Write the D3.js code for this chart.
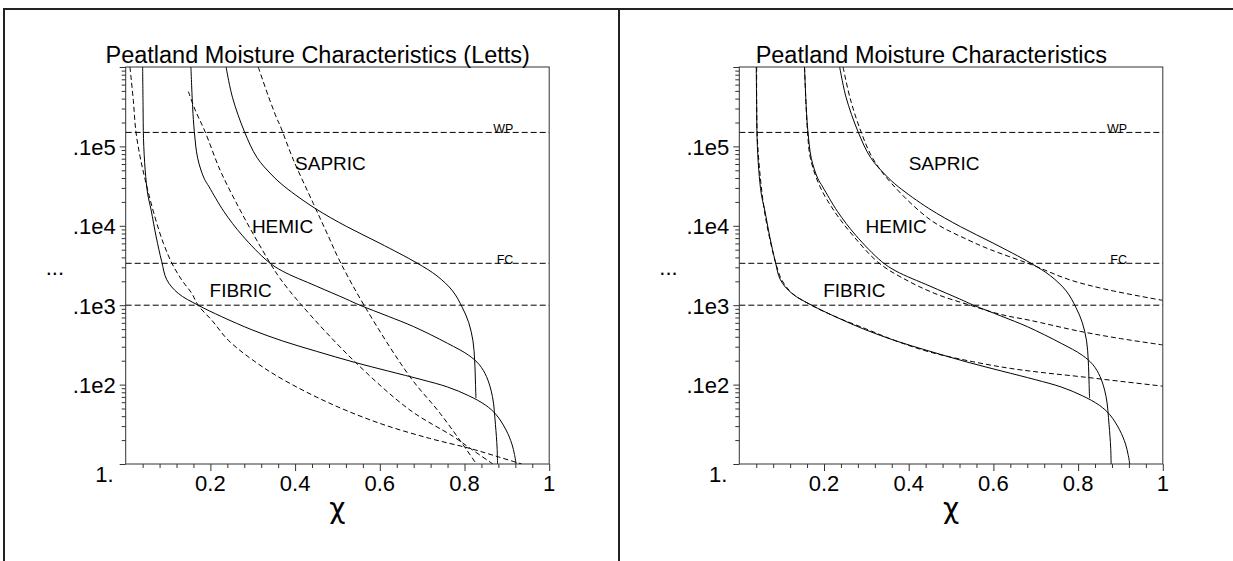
<!DOCTYPE html>
<html>
<head>
<meta charset="utf-8">
<script src="https://cdn.jsdelivr.net/npm/d3@7"></script>
<style>
body { margin: 0; background: #fff; }
text { font-family: "Liberation Sans", Arial, Helvetica, sans-serif; fill: #000; }
text.chi { font-family: "DejaVu Sans", sans-serif; }
</style>
</head>
<body>
<div id="chart"></div>
<script>
// curves: [chi, suction]
var fibricFit = [[0.040,100000],[0.041,31600],[0.042,12600],[0.046,5010],[0.052,2510],[0.060,1580],[0.072,724],[0.085,355],[0.097,209],[0.124,141],[0.171,100],[0.227,71.6],[0.298,49],[0.37,35.5],[0.45,26.3],[0.54,19.1],[0.62,14.8],[0.70,11.5],[0.76,9.33],[0.81,7.24],[0.85,5.5],[0.875,4.17],[0.898,2.69],[0.912,1.78],[0.918,1.32],[0.922,1]];
var hemicFit = [[0.154,100000],[0.158,31600],[0.162,15500],[0.170,7080],[0.185,3980],[0.197,3090],[0.232,1510],[0.275,759],[0.336,355],[0.37,269],[0.45,174],[0.52,120],[0.553,100],[0.62,72.4],[0.68,53.7],[0.76,33.1],[0.81,23.4],[0.835,17.8],[0.852,12.6],[0.866,7.08],[0.873,3.16],[0.877,1.58],[0.878,1]];
var sapricFit = [[0.237,100000],[0.252,41700],[0.280,15500],[0.310,7240],[0.345,4370],[0.376,3090],[0.447,1660],[0.522,977],[0.600,603],[0.688,339],[0.735,234],[0.772,151],[0.795,93.3],[0.810,60.3],[0.820,35.5],[0.824,20],[0.826,10],[0.827,6.76]];

// Letts curves (dashed, left panel)
var fibricLetts = [[0.010,100000],[0.018,38000],[0.024,15500],[0.034,7410],[0.046,3800],[0.069,1290],[0.089,603],[0.109,339],[0.132,209],[0.156,141],[0.171,100],[0.205,63.1],[0.242,36.3],[0.305,19.5],[0.37,11.7],[0.482,5.81],[0.600,3.25],[0.718,2.1],[0.813,1.57],[0.88,1.23],[0.935,1]];
var hemicLetts = [[0.148,49000],[0.164,28800],[0.187,15500],[0.223,5010],[0.266,1740],[0.305,724],[0.341,339],[0.364,219],[0.412,105],[0.537,20.4],[0.671,4.79],[0.774,2.21],[0.813,1.58],[0.867,1]];
var sapricLetts = [[0.313,100000],[0.337,42700],[0.357,22400],[0.364,18600],[0.396,6760],[0.443,1910],[0.475,813],[0.506,355],[0.565,95.5],[0.671,12.6],[0.742,4.37],[0.805,1.51],[0.828,1]];

// second model (dashed, right panel)
var fibricModel = [[0.041,100000],[0.042,15500],[0.048,5010],[0.059,1580],[0.071,724],[0.086,339],[0.10,209],[0.125,141],[0.17,100],[0.225,72.4],[0.30,50.1],[0.37,35.5],[0.45,25.7],[0.55,19.5],[0.64,16],[0.72,14.1],[0.805,12.6],[0.90,11],[1.0,9.55]];
var hemicModel = [[0.154,100000],[0.161,15500],[0.168,7080],[0.19,3160],[0.225,1510],[0.268,759],[0.33,339],[0.40,200],[0.47,135],[0.545,100],[0.62,75.9],[0.686,64.6],[0.805,46.8],[0.90,38],[1.0,31.6]];
var sapricModel = [[0.245,100000],[0.262,39800],[0.287,15500],[0.315,7080],[0.36,3390],[0.453,1170],[0.541,661],[0.593,501],[0.690,324],[0.78,209],[0.874,155],[1.0,115]];

// reference levels
var levelValues = [15000, 337, 100];
var levelNames = ["WP", "FC", ""];

var soilNames = ["SAPRIC", "HEMIC", "FIBRIC"];
var soilLabelChi = [0.40, 0.298, 0.198];
var soilLabelH = [5050, 805, 126];

var xTickValues = [0.2, 0.4, 0.6, 0.8, 1];
var xTickText = ["0.2", "0.4", "0.6", "0.8", "1"];
var yTickValues = [10, 100, 1000, 10000];
var yTickText = [".1e2", ".1e3", ".1e4", ".1e5"];

var titles = ["Peatland Moisture Characteristics (Letts)", "Peatland Moisture Characteristics"];

var plotW = 423.5, plotTop = 67, plotBottom = 464;

var svg = d3.select("#chart").append("svg")
    .attr("width", 1233)
    .attr("height", 561);

// outer cell frame
svg.append("path")
    .attr("d", "M4,561V9H1233M619,9V561")
    .attr("fill", "none")
    .attr("stroke", "#222")
    .attr("stroke-width", 2);

drawPanel(125.7, 0, [fibricFit, hemicFit, sapricFit], [fibricLetts, hemicLetts, sapricLetts]);
drawPanel(739.3, 1, [fibricFit, hemicFit, sapricFit], [fibricModel, hemicModel, sapricModel]);

function drawPanel(x0, idx, solids, dashes) {
    var x = d3.scaleLinear().domain([0, 1]).range([x0, x0 + plotW]);
    var y = d3.scaleLog().domain([1, 1e5]).range([plotBottom, plotTop]);

    var g = svg.append("g").attr("class", "panel" + idx);

    g.append("clipPath").attr("id", "clip" + idx)
        .append("rect")
        .attr("x", x0).attr("y", plotTop)
        .attr("width", plotW).attr("height", plotBottom - plotTop);

    // minor + major ticks on y
    var yMinor = [];
    for (var e = 0; e < 5; e++) {
        for (var m = 2; m <= 9; m++) yMinor.push(m * Math.pow(10, e));
    }
    g.append("g")
        .attr("transform", "translate(" + x0 + ",0)")
        .call(d3.axisLeft(y).tickValues(yMinor).tickSize(4).tickFormat(""))
        .call(function(s) { s.select(".domain").remove(); });
    g.append("g")
        .attr("transform", "translate(" + x0 + ",0)")
        .call(d3.axisLeft(y).tickValues([1, 10, 100, 1000, 10000, 100000]).tickSize(6).tickFormat(""))
        .call(function(s) { s.select(".domain").remove(); });

    // ticks on x
    var xMinor = d3.range(1, 26).map(function(i) { return i * 0.04; })
        .filter(function(v) { return Math.abs(v * 5 - Math.round(v * 5)) > 1e-6; });
    g.append("g")
        .attr("transform", "translate(0," + plotBottom + ")")
        .call(d3.axisBottom(x).tickValues(xMinor).tickSize(4).tickFormat(""))
        .call(function(s) { s.select(".domain").remove(); });
    g.append("g")
        .attr("transform", "translate(0," + plotBottom + ")")
        .call(d3.axisBottom(x).tickValues(xTickValues).tickSize(7).tickFormat(""))
        .call(function(s) { s.select(".domain").remove(); });

    g.selectAll(".tick line").attr("stroke", "#333");

    // frame
    g.append("rect")
        .attr("x", x0).attr("y", plotTop)
        .attr("width", plotW).attr("height", plotBottom - plotTop)
        .attr("fill", "none").attr("stroke", "#333").attr("stroke-width", 1);

    // tick labels
    g.selectAll(".xlab").data(xTickValues).enter().append("text")
        .attr("x", function(d) { return x(d); })
        .attr("y", plotBottom + 27)
        .attr("text-anchor", "middle")
        .style("font-size", "22px")
        .text(function(d, i) { return xTickText[i]; });

    g.selectAll(".ylab").data(yTickValues).enter().append("text")
        .attr("x", x0 - 10)
        .attr("y", function(d) { return y(d) + 8.5; })
        .attr("text-anchor", "end")
        .style("font-size", "22px")
        .text(function(d, i) { return yTickText[i]; });

    g.append("text")
        .attr("x", x0 - 12)
        .attr("y", y(1) + 18)
        .attr("text-anchor", "end")
        .style("font-size", "22px")
        .text("1.");

    g.append("text")
        .attr("x", x0 - 80)
        .attr("y", y(levelValues[1]) + 12)
        .style("font-size", "22px")
        .text("...");

    // title and axis name
    g.append("text")
        .attr("x", x0 + 192)
        .attr("y", 63)
        .attr("text-anchor", "middle")
        .style("font-size", "23.5px")
        .text(titles[idx]);

    g.append("text")
        .attr("class", "chi")
        .attr("x", x0 + plotW / 2)
        .attr("y", 518)
        .attr("text-anchor", "middle")
        .style("font-size", "28px")
        .text("\u03c7");

    var plot = g.append("g").attr("clip-path", "url(#clip" + idx + ")");

    // reference levels
    plot.selectAll(".level").data(levelValues).enter().append("line")
        .attr("x1", x0).attr("x2", x0 + plotW)
        .attr("y1", function(d) { return y(d); })
        .attr("y2", function(d) { return y(d); })
        .attr("stroke", "#000").attr("stroke-width", 1)
        .attr("stroke-dasharray", "6,3");

    g.selectAll(".levelName").data(levelValues).enter().append("text")
        .attr("x", function(d, i) { return x(i == 0 ? 0.868 : 0.876); })
        .attr("y", function(d) { return y(d) + 1; })
        .style("font-size", "12.5px")
        .text(function(d, i) { return levelNames[i]; });

    var line = d3.line()
        .x(function(d) { return x(d[0]); })
        .y(function(d) { return y(d[1]); })
        .curve(d3.curveCatmullRom.alpha(0.5));

    plot.selectAll(".solid").data(solids).enter().append("path")
        .attr("d", line)
        .attr("fill", "none").attr("stroke", "#000").attr("stroke-width", 1);

    plot.selectAll(".dashed").data(dashes).enter().append("path")
        .attr("d", line)
        .attr("fill", "none").attr("stroke", "#000").attr("stroke-width", 1)
        .attr("stroke-dasharray", "5,3");

    g.selectAll(".soil").data(soilNames).enter().append("text")
        .attr("x", function(d, i) { return x(soilLabelChi[i]); })
        .attr("y", function(d, i) { return y(soilLabelH[i]); })
        .style("font-size", "19px")
        .text(function(d) { return d; });
}
</script>
</body>
</html>
